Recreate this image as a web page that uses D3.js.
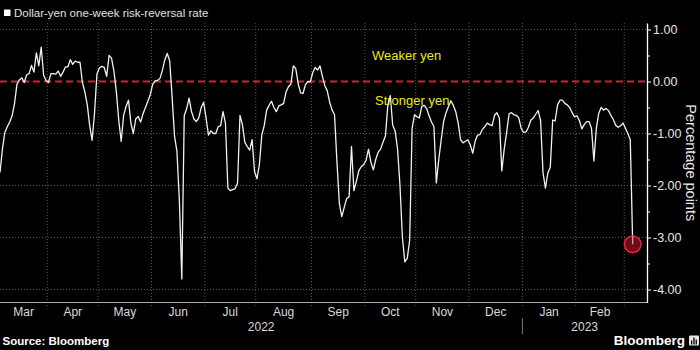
<!DOCTYPE html>
<html>
<head>
<meta charset="utf-8">
<script src="https://cdn.jsdelivr.net/npm/d3@7/dist/d3.min.js"></script>
<style>
  html, body { margin: 0; padding: 0; background: #000; }
  svg { display: block; font-family: "Liberation Sans", Arial, sans-serif; }
</style>
</head>
<body>
<svg id="chart" width="700" height="350"></svg>
<script>
// Dollar-yen one-week risk reversal, one value per trading day from 4 Mar 2022
const startDate = new Date(2022, 2, 4);
const values = [
  -1.75, -1.30, -0.98, -0.87, -0.78, -0.66, -0.42, -0.05, 0.03, 0.07,
  -0.02, 0.13, 0.15, 0.31, 0.18, 0.55, 0.30, 0.66, 0.12, 0.02,
  -0.02, 0.15, 0.15, 0.14, 0.20, 0.10, 0.18, 0.28, 0.28, 0.42,
  0.33, 0.39, 0.37, 0.37, -0.02, -0.20, -0.45, -0.85, -1.13, -0.60,
  0.15, 0.26, 0.29, 0.27, 0.10, 0.50, 0.45, 0.20, -0.20, -0.75,
  -1.15, -0.65, -0.48, -0.36, -0.80, -1.00, -0.72, -0.67, -0.78, -0.62,
  -0.50, -0.38, -0.25, -0.05, 0.01, 0.02, 0.06, 0.22, 0.42, 0.54,
  0.40, -0.30, -1.05, -1.35, -2.30, -3.80, -0.66, -0.52, -0.32, -0.58,
  -0.72, -0.77, -0.70, -0.50, -0.40, -0.70, -1.03, -0.95, -1.00, -1.00,
  -0.87, -0.85, -0.58, -0.80, -2.05, -2.10, -2.08, -2.06, -1.95, -0.65,
  -0.83, -1.17, -1.25, -1.32, -1.12, -1.73, -1.87, -1.60, -1.03, -0.85,
  -0.55, -0.46, -0.38, -0.50, -0.58, -0.47, -0.45, -0.42, -0.20, -0.10,
  -0.05, 0.30, 0.25, -0.04, -0.22, -0.23, -0.06, 0.00, -0.01, 0.17,
  0.27, 0.22, 0.30, 0.10, -0.08, -0.18, -0.40, -0.55, -0.64, -1.55,
  -2.35, -2.60, -2.42, -2.25, -2.22, -1.25, -2.10, -1.92, -1.72, -1.64,
  -1.60, -1.52, -1.30, -1.55, -1.70, -1.50, -1.36, -1.30, -1.17, -1.05,
  -0.45, -0.27, -0.84, -0.95, -1.30, -2.00, -3.00, -3.47, -3.40, -3.05,
  -0.90, -0.64, -0.68, -0.70, -0.48, -0.46, -0.52, -0.66, -0.78, -0.87,
  -1.95, -1.50, -1.12, -0.77, -0.60, -0.48, -0.37, -0.46, -0.58, -0.80,
  -1.12, -1.18, -1.15, -1.12, -1.22, -1.38, -1.15, -1.03, -1.02, -0.92,
  -0.87, -0.80, -0.83, -0.85, -0.65, -0.60, -0.70, -1.72, -1.30, -0.98,
  -0.62, -0.60, -0.64, -0.65, -0.70, -0.90, -0.98, -0.97, -0.88, -0.74,
  -0.70, -0.63, -0.56, -0.75, -1.75, -2.05, -1.76, -1.65, -0.74, -0.76,
  -0.45, -0.36, -0.36, -0.42, -0.45, -0.50, -0.60, -0.68, -0.66, -0.75,
  -0.91, -0.83, -0.77, -0.77, -0.90, -1.53, -0.90, -0.61, -0.50, -0.55,
  -0.52, -0.56, -0.65, -0.73, -0.84, -0.88, -0.85, -0.80, -0.90, -1.00,
  -1.12, -3.13
];
const yTicks = [1, 0, -1, -2, -3, -4];
const yMinorTicks = [0.5, -0.5, -1.5, -2.5, -3.5];
const titleText = "Dollar-yen one-week risk-reversal rate";
const axisTitle = "Percentage points";
const zoneLabels = ["Weaker yen", "Stronger yen"];

// trading calendar: weekdays only
function tradingDays(start, n) {
  const out = [];
  const d = new Date(start);
  while (out.length < n) {
    const w = d.getDay();
    if (w !== 0 && w !== 6) out.push(new Date(d));
    d.setDate(d.getDate() + 1);
  }
  return out;
}
const dates = tradingDays(startDate, values.length);
const data = values.map((v, i) => ({ i, date: dates[i], value: v }));

const svg = d3.select("#chart");
const plotLeft = 0, plotRight = 647, plotTop = 23, plotBottom = 302.5;

const x = d3.scaleLinear().domain([0, 266.9]).range([plotLeft, plotRight]);
const y = d3.scaleLinear().domain([1.125, -4.25]).range([plotTop, plotBottom]);

// month boundaries sit halfway between the last and first trading day
const boundaries = [];
for (let i = 1; i < dates.length; i++) {
  if (dates[i].getMonth() !== dates[i - 1].getMonth()) {
    boundaries.push({ i, x: x(i - 0.5), date: dates[i] });
  }
}

const grid = svg.append("g");
grid.selectAll("line.h").data(yTicks.filter(d => d !== 0)).join("line")
  .attr("x1", plotLeft).attr("x2", plotRight)
  .attr("y1", d => y(d)).attr("y2", d => y(d))
  .attr("stroke", "#5a5a5a").attr("stroke-width", 1).attr("stroke-dasharray", "1,2");
grid.selectAll("line.v").data(boundaries).join("line")
  .attr("x1", d => d.x).attr("x2", d => d.x)
  .attr("y1", plotTop).attr("y2", plotBottom + 4)
  .attr("stroke", "#5a5a5a").attr("stroke-width", 1).attr("stroke-dasharray", "1,2");

// zero line
svg.append("line")
  .attr("x1", plotLeft).attr("x2", plotRight)
  .attr("y1", y(0)).attr("y2", y(0))
  .attr("stroke", "#d0213c").attr("stroke-width", 1.8).attr("stroke-dasharray", "7,4");

// zone labels
svg.append("text").attr("x", 372).attr("y", 60).text(zoneLabels[0])
  .attr("fill", "#ecec00").attr("font-size", 13);
svg.append("text").attr("x", 375).attr("y", 105).text(zoneLabels[1])
  .attr("fill", "#ecec00").attr("font-size", 13);

// series line
const line = d3.line().x(d => x(d.i)).y(d => y(d.value));
svg.append("path").datum(data)
  .attr("d", line)
  .attr("fill", "none").attr("stroke", "#f2f2f2").attr("stroke-width", 1.3)
  .attr("stroke-linejoin", "round");

// latest reading marker
const last = data[data.length - 1];
svg.append("circle")
  .attr("cx", x(last.i)).attr("cy", y(last.value)).attr("r", 8.3)
  .attr("fill", "#6e0b1b").attr("stroke", "#e8213f").attr("stroke-width", 1.5);
svg.append("line")
  .attr("x1", x(last.i)).attr("x2", x(last.i))
  .attr("y1", y(last.value) - 8).attr("y2", y(last.value))
  .attr("stroke", "#f2f2f2").attr("stroke-width", 1.1).attr("opacity", 0.8);

// bottom axis line
svg.append("line")
  .attr("x1", plotLeft).attr("x2", plotRight).attr("y1", plotBottom).attr("y2", plotBottom)
  .attr("stroke", "#b0b0b0").attr("stroke-width", 1);

// right axis
const yAxis = d3.axisRight(y).tickValues(yTicks).tickSize(4).tickSizeOuter(0)
  .tickPadding(2).tickFormat(d => d.toFixed(2));
const ya = svg.append("g").attr("transform", `translate(${plotRight},0)`).call(yAxis);
ya.select(".domain").attr("stroke", "#ffffff").attr("stroke-width", 1.3);
ya.selectAll(".tick line").attr("stroke", "#ffffff");
ya.selectAll(".tick text").attr("fill", "#e6e6e6").attr("font-size", 12.5)
  .attr("font-family", "Liberation Sans, Arial, sans-serif");
const yMinor = d3.axisRight(y).tickValues(yMinorTicks).tickSize(3).tickSizeOuter(0).tickFormat("");
const ym = svg.append("g").attr("transform", `translate(${plotRight},0)`).call(yMinor);
ym.select(".domain").remove();
ym.selectAll(".tick line").attr("stroke", "#ffffff");

svg.append("text")
  .attr("transform", `translate(685.5,${(plotTop + plotBottom) / 2}) rotate(90)`)
  .attr("text-anchor", "middle").attr("fill", "#e6e6e6").attr("font-size", 14.5)
  .text(axisTitle);

// month labels centred in each visible month
const edges = [plotLeft, ...boundaries.map(b => b.x), plotRight];
const monthStarts = [dates[0], ...boundaries.map(b => b.date)];
const fmtMonth = d3.timeFormat("%b");
const months = monthStarts.map((d, k) => ({ label: fmtMonth(d), a: edges[k], b: edges[k + 1] }))
  .filter(m => m.b - m.a > 30);
svg.selectAll("text.month").data(months).join("text")
  .attr("x", d => (d.a + d.b) / 2).attr("y", 316)
  .attr("text-anchor", "middle").attr("fill", "#d9d9d9").attr("font-size", 12)
  .text(d => d.label);

// year labels and separator
const jan = boundaries.find(b => b.date.getMonth() === 0);
const years = [
  { label: String(dates[0].getFullYear()), a: plotLeft, b: jan.x },
  { label: String(jan.date.getFullYear()), a: jan.x, b: plotRight }
];
svg.selectAll("text.year").data(years).join("text")
  .attr("x", d => (d.a + d.b) / 2).attr("y", 331)
  .attr("text-anchor", "middle").attr("fill", "#d9d9d9").attr("font-size", 12)
  .text(d => d.label);
svg.append("line")
  .attr("x1", jan.x).attr("x2", jan.x).attr("y1", 318).attr("y2", 334)
  .attr("stroke", "#777").attr("stroke-width", 1);

// title with legend swatch
svg.append("rect").attr("x", 4).attr("y", 9.5).attr("width", 6.5).attr("height", 6.5).attr("fill", "#fff");
svg.append("text").attr("x", 14).attr("y", 16.5).attr("fill", "#e0e0e0").attr("font-size", 11.5)
  .text(titleText);

// footer
svg.append("text").attr("x", 2.5).attr("y", 345).attr("fill", "#ffffff")
  .attr("font-size", 11.5).attr("font-weight", "bold").text("Source: Bloomberg");
svg.append("text").attr("x", 685).attr("y", 345).attr("text-anchor", "end").attr("fill", "#ffffff")
  .attr("font-size", 13.5).attr("font-weight", "bold").text("Bloomberg");
const logo = svg.append("g").attr("transform", "translate(689,335.5)");
logo.append("rect").attr("width", 10).attr("height", 10).attr("rx", 1).attr("fill", "#e6e6e6");
logo.selectAll("rect.bar").data([4, 7, 5]).join("rect")
  .attr("x", (d, k) => 2 + k * 2.3).attr("y", d => 9 - d).attr("width", 1.3).attr("height", d => d)
  .attr("fill", "#000");
</script>
</body>
</html>
